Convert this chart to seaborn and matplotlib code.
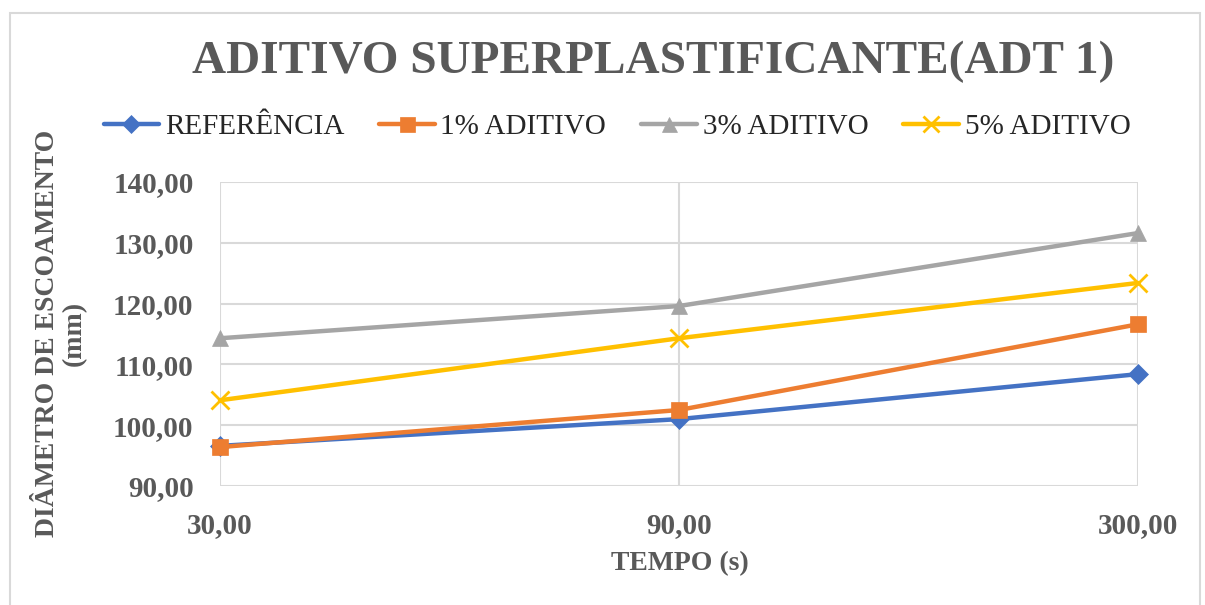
import matplotlib
matplotlib.use("Agg")
import matplotlib.pyplot as plt
import seaborn as sns
import pandas as pd
from matplotlib.patches import Rectangle
from matplotlib.lines import Line2D

# ---- data ----
tempos = ["30,00", "90,00", "300,00"]
series_names = ["REFERÊNCIA", "1% ADITIVO", "3% ADITIVO", "5% ADITIVO"]
referencia = [96.6, 101.0, 108.4]
aditivo_1 = [96.4, 102.5, 116.6]
aditivo_3 = [114.3, 119.6, 131.6]
aditivo_5 = [104.1, 114.3, 123.4]
y_ticks = [90, 100, 110, 120, 130, 140]

values = [referencia, aditivo_1, aditivo_3, aditivo_5]
df = pd.DataFrame({
    "tempo": tempos * 4,
    "serie": [n for n in series_names for _ in tempos],
    "valor": [v for s in values for v in s],
})

sns.set_theme(style="white")
plt.rcParams["font.family"] = ["Liberation Serif", "DejaVu Serif"]

colors = ["#4472C4", "#ED7D31", "#A5A5A5", "#FFC000"]
markers = ["D", "s", "^", "x"]
msizes = [10, 12, 12, 13]
gray = "#595959"

fig = plt.figure(figsize=(12.05, 6.05), dpi=100)
W, H = 1205, 605
ax = fig.add_axes([220 / W, 1 - 486 / H, (1138 - 220) / W, (486 - 182) / H])

for name, col, mk, ms in zip(series_names, colors, markers, msizes):
    sub = df[df["serie"] == name]
    sns.lineplot(data=sub, x="tempo", y="valor", ax=ax, color=col, linewidth=3.2,
                 marker=mk, markersize=ms, markeredgecolor=col, markerfacecolor=col,
                 markeredgewidth=2 if mk == "x" else 0.5, sort=False, label=name,
                 legend=False, clip_on=False, zorder=3)

ax.set_xlim(0, 2)
ax.set_ylim(90, 140)
ax.set_yticks(y_ticks)
ax.set_yticklabels([f"{t:.2f}".replace(".", ",") for t in y_ticks])
ax.set_xticks(range(len(tempos)))
ax.set_xticklabels(tempos)
ax.grid(True, color="#D9D9D9", linewidth=1.5)
for s in ax.spines.values():
    s.set_visible(False)
ax.tick_params(axis="both", length=0, labelsize=21, labelcolor=gray)
for lab in ax.get_xticklabels() + ax.get_yticklabels():
    lab.set_fontweight("bold")
ax.tick_params(axis="y", pad=19)
ax.tick_params(axis="x", pad=19)
ax.set_xlabel("")
ax.set_ylabel("")

# axis titles
fig.text(680 / W, 1 - 564 / H, "TEMPO (s)", ha="center", va="center",
         fontsize=20, fontweight="bold", color=gray)
fig.text(61 / W, 1 - 333 / H, "DIÂMETRO DE ESCOAMENTO\n(mm)", ha="center", va="center",
         rotation=90, fontsize=20, fontweight="bold", color=gray, linespacing=1.1)

# title
fig.text(653 / W, 1 - 62 / H, "ADITIVO SUPERPLASTIFICANTE(ADT 1)", ha="center", va="center",
         fontsize=34, fontweight="bold", color=gray)

# legend
handles = [Line2D([0], [0], color=c, lw=3.2, marker=m, markersize=s * 0.9,
                  markerfacecolor=c, markeredgecolor=c,
                  markeredgewidth=2 if m == "x" else 0.5)
           for c, m, s in zip(colors, markers, msizes)]
fig.legend(handles, series_names, loc="center", bbox_to_anchor=(617 / W, 1 - 127 / H),
           ncol=4, frameon=False, fontsize=21, handlelength=1.9, columnspacing=1.2,
           handletextpad=0.2)

# chart border
fig.patches.append(Rectangle((10 / W, -0.01), (1200 - 10) / W, 1 - 13 / H + 0.01,
                             transform=fig.transFigure, fill=False,
                             edgecolor="#D9D9D9", linewidth=1.5))

fig.savefig("out.png", dpi=100)
